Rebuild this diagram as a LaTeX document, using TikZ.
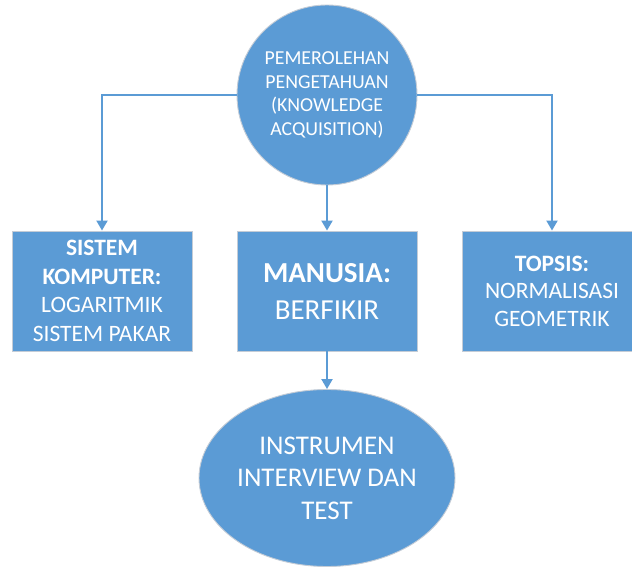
\documentclass[tikz,border=0pt]{standalone}
\usepackage{fontspec}
\setmainfont{Carlito}
\usetikzlibrary{arrows.meta,shapes.geometric}
\definecolor{officeblue}{RGB}{91,155,213}
\definecolor{edgegray}{RGB}{196,204,214}
\begin{document}
\begin{tikzpicture}[x=1pt,y=-1pt,
  shapefill/.style={fill=officeblue, draw=edgegray, line width=0.9pt,
                    text=white, align=center, inner sep=0pt},
  boxnode/.style={shapefill, minimum width=180pt, minimum height=120pt},
  link/.style={draw=officeblue, line width=2pt,
               -{Triangle[width=11pt,length=10pt]}}]
\useasboundingbox (0,0) rectangle (632,569);
\fill[white] (0,0) rectangle (632,569);

% source: knowledge acquisition
\node[shapefill, circle, minimum size=180pt,
      font=\fontsize{19.8}{23.5}\selectfont] (src) at (327,95)
  {PEMEROLEHAN\\PENGETAHUAN\\(KNOWLEDGE\\ACQUISITION)};

% three branches
\node[boxnode, font=\fontsize{23.5}{28.5}\selectfont] (lbox) at (102,291)
  {\textbf{SISTEM}\\\textbf{KOMPUTER:}\\LOGARITMIK\\SISTEM PAKAR};
\node[boxnode, font=\fontsize{29}{37}\selectfont] (mbox) at (327,291)
  {\textbf{MANUSIA:}\\BERFIKIR};
\node[boxnode, font=\fontsize{23.5}{27.5}\selectfont] (rbox) at (552,291)
  {\textbf{TOPSIS:}\\NORMALISASI\\GEOMETRIK};

% outcome
\node[shapefill, ellipse, minimum width=256pt, minimum height=177pt,
      font=\fontsize{27}{32.5}\selectfont] (tgt) at (327,478)
  {INSTRUMEN\\INTERVIEW DAN\\TEST};

% connectors
\draw[link] (src.west) -| (lbox.north);
\draw[link] (src.east) -| (rbox.north);
\draw[link] (src.south) -- (mbox.north);
\draw[link] (mbox.south) -- (tgt.north);
\end{tikzpicture}
\end{document}
